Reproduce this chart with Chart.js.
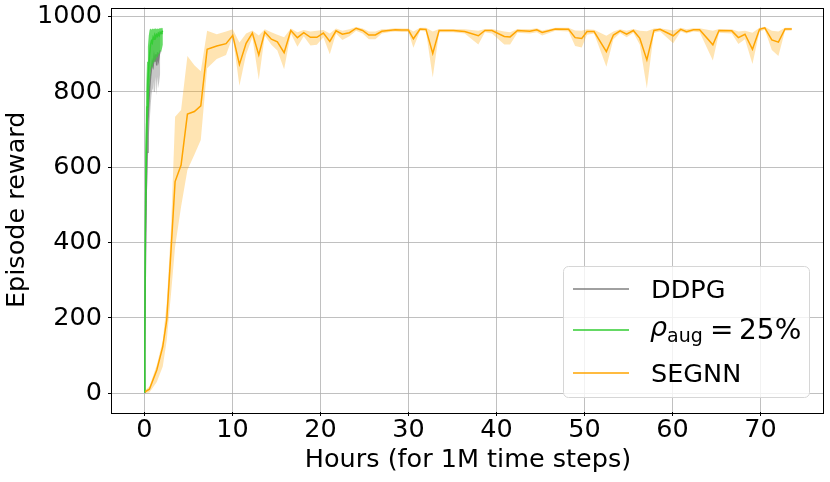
<!DOCTYPE html>
<html>
<head>
<meta charset="utf-8">
<script src="https://cdn.jsdelivr.net/npm/chart.js@4"></script>
<style>
  body { margin: 0; background: #fff; }
</style>
</head>
<body>
<canvas id="rewardchart" width="830" height="482"></canvas>
<script>
// axis ticks
const xTicks = [0, 10, 20, 30, 40, 50, 60, 70];
const yTicks = [0, 200, 400, 600, 800, 1000];

// DDPG (gray), only ~2 hours long
const ddpgHours = [0, 0.05, 0.1, 0.2, 0.3, 0.4, 0.5, 0.6, 0.7, 0.8, 0.9, 1.0, 1.1, 1.2, 1.3, 1.4, 1.5, 1.6, 1.7, 1.8];
const ddpgMean  = [3, 100, 300, 520, 640, 720, 770, 810, 840, 860, 880, 870, 895, 880, 900, 870, 905, 885, 900, 910];
const ddpgLow   = [0, 40, 180, 400, 540, 620, 680, 720, 760, 790, 810, 800, 830, 800, 840, 790, 840, 810, 830, 850];
const ddpgHigh  = [6, 200, 450, 660, 760, 830, 870, 900, 920, 930, 945, 940, 955, 950, 958, 950, 960, 955, 960, 962];

// rho_aug = 25% (green)
const augHours = [0, 0.05, 0.1, 0.2, 0.3, 0.4, 0.5, 0.6, 0.7, 0.8, 0.9, 1.0, 1.1, 1.2, 1.3, 1.4, 1.5, 1.6, 1.7, 1.8, 1.9, 2.0, 2.1];
const augMean  = [3, 150, 420, 640, 760, 830, 870, 900, 925, 935, 930, 945, 940, 950, 945, 952, 948, 955, 950, 958, 955, 960, 962];
const augLow   = [0, 60, 250, 480, 620, 720, 780, 820, 850, 870, 860, 880, 875, 890, 880, 895, 890, 900, 900, 910, 905, 915, 925];
const augHigh  = [6, 300, 620, 800, 880, 920, 950, 965, 968, 965, 968, 966, 968, 967, 969, 966, 968, 967, 969, 968, 970, 968, 970];

// SEGNN (orange)
const segHours = [0.08, 0.57, 1.41, 2.09, 2.54, 3.03, 3.49, 4.17, 4.89, 5.68, 6.41, 7.13, 8.22, 9.28, 10.04, 10.8, 11.56, 12.27, 13.0, 13.68,
  14.43, 15.11, 15.88, 16.64, 17.39, 18.11, 18.87, 19.6, 20.34, 21.07, 21.78, 22.5, 23.3, 24.06, 24.8, 25.5, 26.25, 26.98, 27.73, 28.5,
  29.25, 30.0, 30.57, 31.33, 32.0, 32.77, 33.49, 35.1, 36.4, 37.95, 38.7, 39.5, 40.9, 41.56, 42.4, 43.8, 44.6, 45.2, 46.7, 48.2,
  48.95, 49.7, 50.3, 51.1, 52.5, 53.3, 54.06, 54.8, 55.57, 56.3, 57.1, 57.9, 58.6, 60.1, 60.95, 61.6, 62.4, 63.1, 64.6, 65.3,
  66.75, 67.5, 68.25, 69.1, 69.9, 70.5, 71.3, 72.05, 72.8, 73.57];
const segMean = [4, 11, 62, 124, 195, 380, 562, 606, 741, 748, 763, 913, 922, 928, 950, 873, 929, 956, 898, 959,
  940, 933, 904, 963, 944, 957, 945, 945, 956, 934, 962, 953, 957, 969, 963, 951, 951, 961, 963, 965,
  964, 964, 941, 967, 966, 902, 963, 963, 960, 949, 963, 963, 947, 946, 963, 961, 965, 958, 967, 966,
  944, 942, 960, 960, 907, 951, 962, 953, 963, 942, 885, 963, 966, 949, 966, 960, 965, 965, 925, 963,
  962, 944, 953, 913, 966, 970, 938, 932, 967, 967];
const segLow = [0, 2, 30, 71, 141, 265, 389, 495, 593, 633, 672, 863, 887, 898, 947, 816, 900, 945, 832, 950,
  925, 910, 860, 955, 920, 948, 923, 925, 945, 900, 955, 938, 948, 962, 955, 940, 940, 955, 958, 960,
  959, 959, 917, 962, 960, 838, 958, 958, 955, 926, 958, 955, 926, 926, 957, 955, 958, 950, 962, 960,
  922, 918, 952, 955, 867, 940, 956, 945, 957, 925, 810, 957, 960, 929, 960, 955, 960, 958, 883, 957,
  955, 927, 940, 874, 960, 965, 911, 895, 962, 963];
const segHigh = [8, 18, 75, 140, 240, 440, 734, 752, 895, 871, 855, 962, 953, 960, 966, 931, 955, 963, 950, 966,
  958, 952, 945, 968, 958, 964, 960, 962, 964, 955, 968, 962, 966, 972, 968, 960, 960, 966, 967, 969,
  968, 968, 960, 970, 970, 960, 967, 967, 966, 962, 967, 967, 960, 958, 967, 966, 969, 963, 970, 970,
  963, 962, 966, 965, 949, 960, 966, 962, 967, 962, 961, 968, 969, 963, 970, 966, 969, 969, 962, 967,
  966, 960, 962, 957, 970, 973, 962, 960, 970, 970];

const FONT = "'DejaVu Sans'";
const toPoints = (xs, ys) => xs.map((x, i) => ({x: x, y: ys[i]}));

const series = [
  {label: 'SEGNN', color: '#ffa500', band: 'rgba(255,165,0,0.3)', hours: segHours, mean: segMean, low: segLow, high: segHigh, order: 0},
  {label: 'aug', color: '#32cd32', band: 'rgba(50,205,50,0.75)', hours: augHours, mean: augMean, low: augLow, high: augHigh, order: 2},
  {label: 'DDPG', color: '#808080', band: 'rgba(128,128,128,0.45)', hours: ddpgHours, mean: ddpgMean, low: ddpgLow, high: ddpgHigh, order: 4}
];

const datasets = [];
series.forEach(s => {
  datasets.push({
    label: s.label + ' low', data: toPoints(s.hours, s.low), order: s.order + 1,
    borderColor: 'rgba(0,0,0,0)', borderWidth: 0, pointRadius: 0, fill: false
  });
  datasets.push({
    label: s.label + ' high', data: toPoints(s.hours, s.high), order: s.order + 1,
    borderColor: 'rgba(0,0,0,0)', borderWidth: 0, pointRadius: 0, fill: '-1', backgroundColor: s.band
  });
  datasets.push({
    label: s.label, data: toPoints(s.hours, s.mean), order: s.order,
    borderColor: s.color, borderWidth: 1.5, pointRadius: 0, fill: false
  });
});

// black box round the plot
const frame = {
  id: 'frame',
  afterDatasetsDraw(chart) {
    const {left, top, right, bottom} = chart.chartArea;
    const c = chart.ctx;
    c.save();
    c.strokeStyle = '#000';
    c.lineWidth = 1;
    c.strokeRect(Math.round(left) - 0.5, Math.round(top) + 0.5, Math.round(right - left), Math.round(bottom - top));
    c.restore();
  }
};

// legend box, drawn by hand for the subscript
const legendBox = {
  id: 'legendBox',
  afterDraw(chart) {
    const c = chart.ctx;
    c.save();
    c.beginPath();
    c.roundRect(563.5, 266.5, 246, 131, 5);
    c.fillStyle = 'rgba(255,255,255,0.8)';
    c.fill();
    c.strokeStyle = '#d6d6d6';
    c.lineWidth = 1;
    c.stroke();

    const rows = [
      {color: '#808080', y: 289},
      {color: '#32cd32', y: 330},
      {color: '#ffa500', y: 373}
    ];
    rows.forEach(r => {
      c.beginPath();
      c.moveTo(573, r.y);
      c.lineTo(629, r.y);
      c.strokeStyle = r.color;
      c.lineWidth = 1.5;
      c.stroke();
    });

    c.fillStyle = '#000';
    c.textBaseline = 'alphabetic';
    c.font = '25.5px ' + FONT;
    c.fillText('DDPG', 651, 298);
    c.fillText('SEGNN', 651, 382);

    c.font = 'italic 27px ' + FONT;
    c.fillText('ρ', 650, 336);
    c.font = '19px ' + FONT;
    c.fillText('aug', 667, 342);
    c.font = '28px ' + FONT;
    c.fillText('=', 710, 339);
    c.fillText('25%', 739, 339);
    c.restore();
  }
};

const ctx = document.getElementById('rewardchart').getContext('2d');

const rewardchart = new Chart(ctx, {
  type: 'line',
  data: { datasets: datasets },
  plugins: [frame, legendBox],
  options: {
    responsive: false,
    animation: false,
    devicePixelRatio: 1,
    layout: { padding: { top: 7.5, right: 6, left: 0, bottom: 0 } },
    elements: { line: { tension: 0 } },
    plugins: {
      legend: { display: false },
      tooltip: { enabled: false },
      filler: { propagate: false }
    },
    scales: {
      x: {
        type: 'linear',
        min: -3.68,
        max: 77.23,
        afterBuildTicks: scale => { scale.ticks = xTicks.map(v => ({value: v})); },
        afterFit: scale => { scale.height = 70; },
        grid: { color: '#b0b0b0', lineWidth: 0.8, tickColor: '#000', tickLength: 4, tickWidth: 1 },
        border: { display: false },
        ticks: {
          color: '#000', padding: 2, maxRotation: 0,
          font: { family: FONT, size: 25.5, lineHeight: 1 },
          callback: v => String(v)
        },
        title: {
          display: true, text: 'Hours (for 1M time steps)', color: '#000',
          font: { family: FONT, size: 25.5, lineHeight: 1.2 },
          padding: { top: 0, bottom: 6 }
        }
      },
      y: {
        min: -49.6,
        max: 1024,
        afterBuildTicks: scale => { scale.ticks = yTicks.map(v => ({value: v})); },
        afterFit: scale => { scale.width = 112; },
        grid: { color: '#b0b0b0', lineWidth: 0.8, tickColor: '#000', tickLength: 4, tickWidth: 1 },
        border: { display: false },
        ticks: {
          color: '#000', padding: 6,
          font: { family: FONT, size: 25.5, lineHeight: 0.1 },
          callback: v => String(v)
        },
        title: {
          display: true, text: 'Episode reward', color: '#000',
          font: { family: FONT, size: 25.5, lineHeight: 1.2 },
          padding: { top: 2, bottom: 0 }
        }
      }
    }
  }
});
</script>
</body>
</html>
